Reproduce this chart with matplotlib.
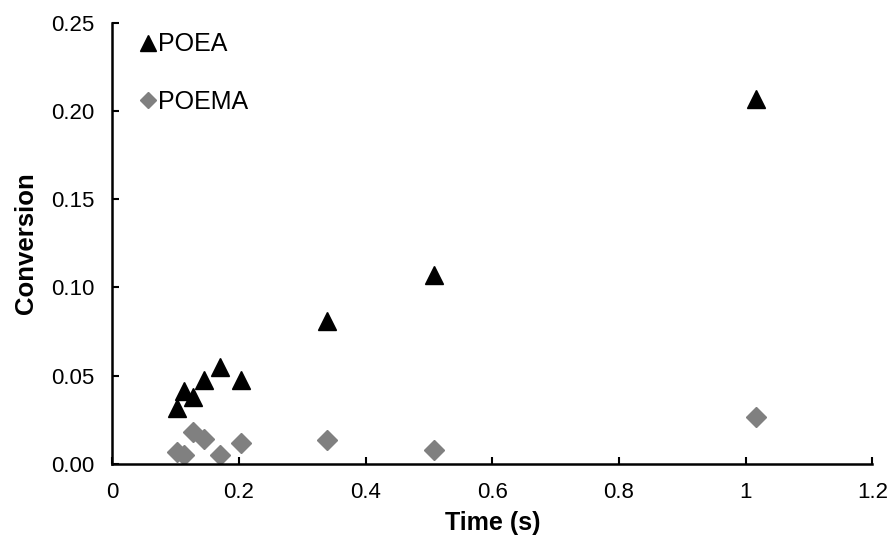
import matplotlib.pyplot as plt

plt.rcParams['font.family'] = ['Liberation Sans', 'DejaVu Sans']

# residence times (s)
time_s = [0.1017, 0.113, 0.127, 0.145, 0.1695, 0.2034, 0.339, 0.5085, 1.017]
poea = [0.0315, 0.041, 0.0377, 0.0476, 0.0547, 0.0476, 0.081, 0.107, 0.207]
poema = [0.0067, 0.0048, 0.018, 0.0142, 0.0048, 0.0118, 0.0133, 0.0076, 0.0265]

x_ticks = [0, 0.2, 0.4, 0.6, 0.8, 1.0, 1.2]
x_labels = ['0', '0.2', '0.4', '0.6', '0.8', '1', '1.2']
y_ticks = [0, 0.05, 0.10, 0.15, 0.20, 0.25]
y_labels = ['0.00', '0.05', '0.10', '0.15', '0.20', '0.25']

fig = plt.figure(figsize=(8.91, 5.36), dpi=100)
ax = fig.add_axes([0.126, 0.135, 0.853, 0.822])

ax.plot(time_s, poea, linestyle='none', marker='^', ms=13, color='black', label='POEA')
ax.plot(time_s, poema, linestyle='none', marker='D', ms=10, color='#808080', label='POEMA')

ax.set_xlim(0, 1.2)
ax.set_ylim(0, 0.25)
ax.set_xticks(x_ticks)
ax.set_xticklabels(x_labels)
ax.set_yticks(y_ticks)
ax.set_yticklabels(y_labels)

for s in ['top', 'right']:
	ax.spines[s].set_visible(False)
for s in ['left', 'bottom']:
	ax.spines[s].set_linewidth(1.8)

ax.tick_params(direction='in', length=5, width=1.5, labelsize=16)
ax.tick_params(axis='y', pad=13)
ax.tick_params(axis='x', pad=13)
ax.set_xlabel('Time (s)', fontsize=18, fontweight='bold', labelpad=6)
ax.set_ylabel('Conversion', fontsize=18.5, fontweight='bold', labelpad=9)

leg = ax.legend(loc='upper left', bbox_to_anchor=(0.008, 1.03), frameon=False,
	fontsize=18, markerscale=0.85, handlelength=0.6, handletextpad=0.1,
	labelspacing=1.35)

fig.savefig('out.png', dpi=100)
